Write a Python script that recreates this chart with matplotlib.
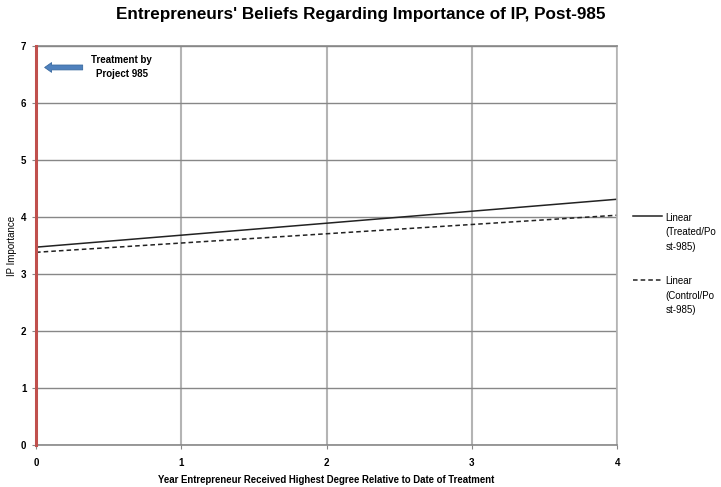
import numpy as np
import matplotlib.pyplot as plt

plt.rcParams['font.family'] = ['Liberation Sans', 'DejaVu Sans']

# linear trend lines, endpoints at year 0 and year 4
years = [0, 4]
treated = [3.47, 4.31]
control = [3.38, 4.03]

xticks = [0, 1, 2, 3, 4]
yticks = [0, 1, 2, 3, 4, 5, 6, 7]

fig = plt.figure(figsize=(7.21, 4.87), dpi=100)
ax = fig.add_axes([0.050, 0.086, 0.806, 0.820])

ax.plot(years, treated, color='#222222', lw=1.1, label='Linear\n(Treated/Po\nst-985)')
ax.plot(years, control, color='#222222', lw=1.1, ls=(0, (3, 2)),
        label='Linear\n(Control/Po\nst-985)')

ax.set_xlim(0, 4)
ax.set_ylim(0, 7)
ax.set_xticks(xticks)
ax.set_yticks(yticks)
ax.grid(True, axis='y', color='#878787', lw=1.0)
ax.grid(True, axis='x', color='#b4b4b4', lw=1.5)
ax.set_axisbelow(True)
for s in ax.spines.values():
    s.set_color('#b4b4b4')
    s.set_linewidth(1.2)
ax.spines['bottom'].set_color('#878787')
ax.spines['top'].set_color('#878787')
ax.tick_params(length=3, color='#878787', labelsize=7, pad=4)
for lab in ax.get_xticklabels() + ax.get_yticklabels():
    lab.set_fontweight('bold')
ax.tick_params(axis='x', pad=6)

# treatment marker at year 0
ax.axvline(0, color='#c0504d', lw=2.2, zorder=5, clip_on=False)
ax.annotate('', xy=(0.04, 6.62), xytext=(0.34, 6.62),
            arrowprops=dict(arrowstyle='simple,head_width=0.7,head_length=0.5,tail_width=0.35',
                            fc='#4f81bd', ec='#3a6aa0', lw=0.6))
ax.text(0.59, 6.62, 'Treatment by\nProject 985', ha='center', va='center',
        fontsize=7, fontweight='bold', linespacing=1.5)

ax.set_xlabel('Year Entrepreneur Received Highest Degree Relative to Date of Treatment',
              fontsize=6.9, fontweight='bold', labelpad=5)
ax.set_ylabel('IP Importance', fontsize=7, labelpad=3)
fig.suptitle("Entrepreneurs' Beliefs Regarding Importance of IP, Post-985",
             fontsize=12.3, fontweight='bold', y=0.985)

leg = ax.legend(loc='upper left', bbox_to_anchor=(1.02, 0.591), frameon=False,
                fontsize=7, handlelength=3.0, handletextpad=0.35, labelspacing=2.5,
                borderaxespad=0)
for txt in leg.get_texts():
    txt.set_linespacing(1.55)
# put each legend line beside the first row of its label
for col in leg._legend_handle_box.get_children():
    for row in col.get_children():
        row.align = 'top'

fig.savefig('out.png', dpi=100)
